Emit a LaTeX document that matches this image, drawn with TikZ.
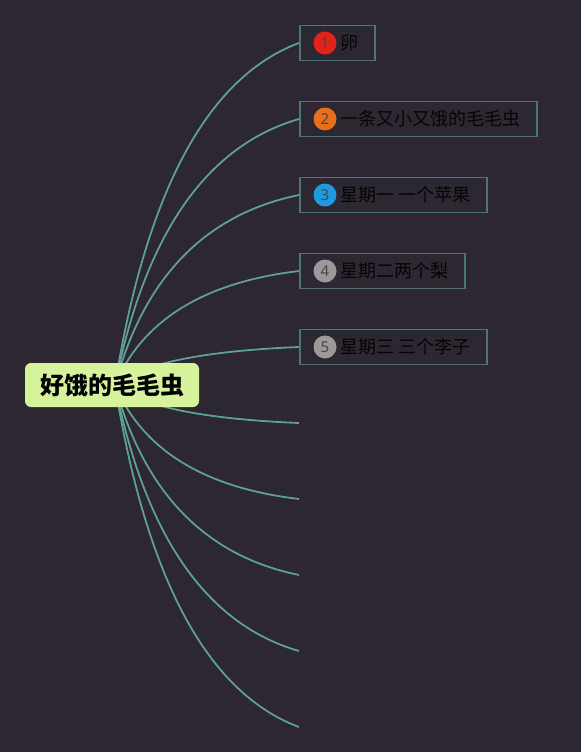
\documentclass[tikz,border=0pt]{standalone}
\usepackage{fontspec}
\setmainfont{Noto Sans}
\newfontfamily\cjk{Noto Sans CJK SC}
\definecolor{bgc}{HTML}{2C2730}
\definecolor{linec}{HTML}{5E9F97}
\definecolor{boxc}{HTML}{4E7475}
\definecolor{rootc}{HTML}{D6F29A}
\definecolor{numred}{HTML}{E2231A}
\definecolor{numorange}{HTML}{E8701A}
\definecolor{numblue}{HTML}{1E9BE0}
\definecolor{numgrey}{HTML}{9C999B}
\definecolor{txt}{HTML}{050505}
\begin{document}
\begin{tikzpicture}[x=1pt,y=-1pt,
  topicbox/.style={draw=boxc, line width=1.8pt, anchor=west, minimum height=35pt,
    inner xsep=16pt, inner ysep=0pt, font=\cjk\fontsize{18}{18}\selectfont, text=txt},
  numdot/.style={circle, minimum size=23pt, inner sep=0pt, font=\fontsize{15}{15}\selectfont, text=black!72},
  branch/.style={draw=linec, line width=1.8pt},
  rootbox/.style={fill=rootc, rounded corners=6pt, minimum width=174pt, minimum height=44pt,
    inner sep=0pt, font=\cjk\bfseries\fontsize{24}{24}\selectfont, text=black}]
\fill[bgc] (0,0) rectangle (581,752);
\useasboundingbox (0,0) rectangle (581,752);

\coordinate (hub) at (115,385);
\node[topicbox] (b1) at (299,43) {\hspace*{25pt}卵};
\node[topicbox] (b2) at (299,119) {\hspace*{25pt}一条又小又饿的毛毛虫};
\node[topicbox] (b3) at (299,195) {\hspace*{25pt}星期一 一个苹果};
\node[topicbox] (b4) at (299,271) {\hspace*{25pt}星期二两个梨};
\node[topicbox] (b5) at (299,347) {\hspace*{25pt}星期三 三个李子};
\node[numdot, fill=numred] (n1) at ([xshift=26pt]b1.west) {1};
\node[numdot, fill=numorange] (n2) at ([xshift=26pt]b2.west) {2};
\node[numdot, fill=numblue] (n3) at ([xshift=26pt]b3.west) {3};
\node[numdot, fill=numgrey] (n4) at ([xshift=26pt]b4.west) {4};
\node[numdot, fill=numgrey] (n5) at ([xshift=26pt]b5.west) {5};
\coordinate (e6) at (299,423);
\coordinate (e7) at (299,499);
\coordinate (e8) at (299,575);
\coordinate (e9) at (299,651);
\coordinate (e10) at (299,727);

\draw[branch] (hub) .. controls (146.3,191) and (207.7,77) .. (b1.west);
\draw[branch] (hub) .. controls (145,234.3) and (206.3,145.7) .. (b2.west);
\draw[branch] (hub) .. controls (143.7,277.7) and (205,214.3) .. (b3.west);
\draw[branch] (hub) .. controls (142.3,320.3) and (203.7,282.3) .. (b4.west);
\draw[branch] (hub) .. controls (141,363.7) and (202.3,351) .. (b5.west);
\draw[branch] (hub) .. controls (141,406.3) and (202.3,419) .. (e6);
\draw[branch] (hub) .. controls (142.3,449.7) and (203.7,487.7) .. (e7);
\draw[branch] (hub) .. controls (143.7,492.3) and (205,555.7) .. (e8);
\draw[branch] (hub) .. controls (145,535.7) and (206.3,624.3) .. (e9);
\draw[branch] (hub) .. controls (146.3,579) and (207.7,693) .. (e10);

\node[rootbox] (root) at (112,385) {好饿的毛毛虫};
\end{tikzpicture}
\end{document}
